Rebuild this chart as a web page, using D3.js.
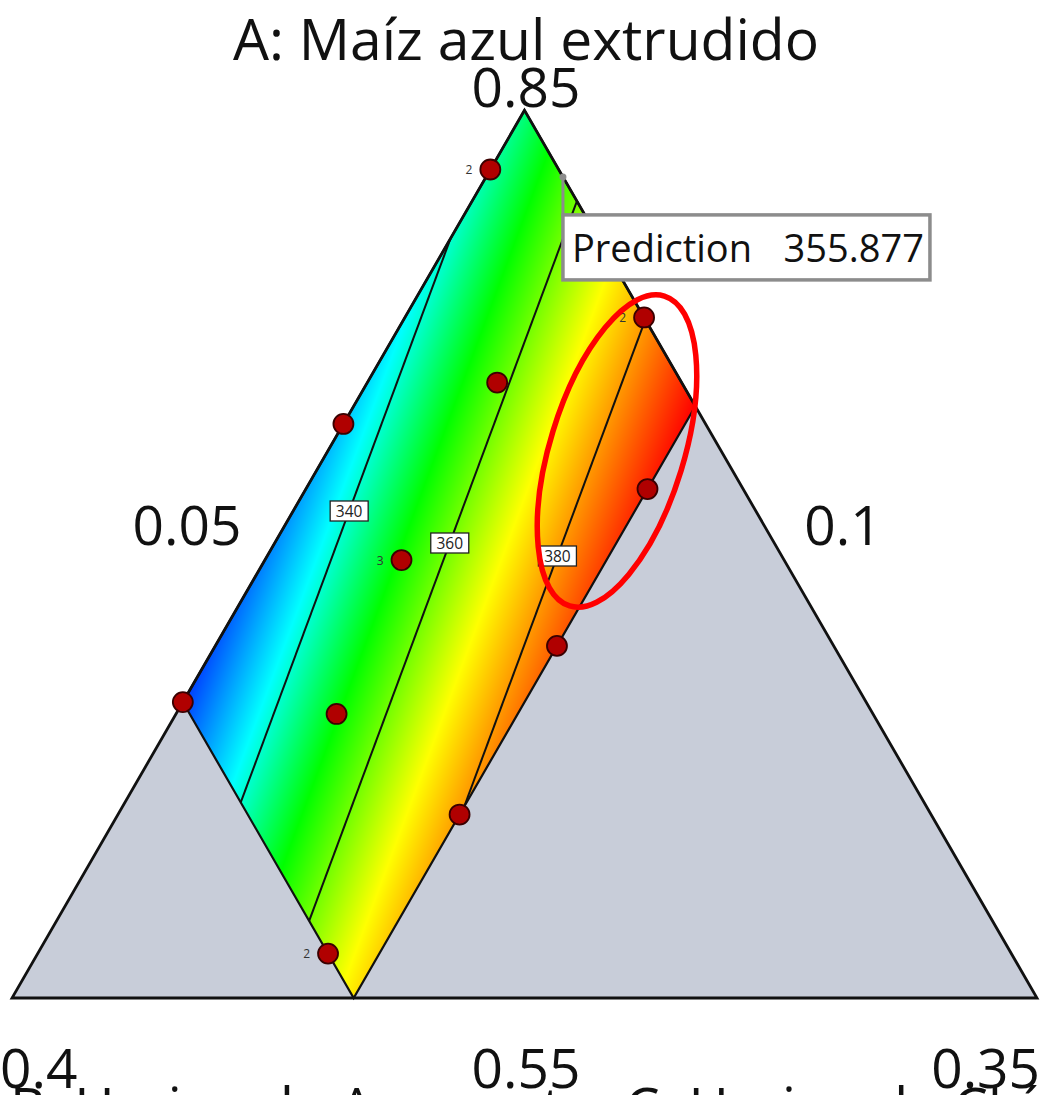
<!DOCTYPE html>
<html>
<head>
<meta charset="utf-8">
<script src="https://cdn.jsdelivr.net/npm/d3@7"></script>
<style>
  html, body { margin: 0; padding: 0; background: #fff; overflow: hidden; }
  svg { display: block; font-family: "Open Sans", "Noto Sans", sans-serif; }
</style>
</head>
<body>
<svg id="chart" width="1043" height="1095"></svg>
<script>
// ---- Mixture components and their bounds ----
const componentNames = ["A: Maíz azul extrudido", "B: Harina de Amaranto", "C: Harina de Chía"];
const componentLow  = [0.55, 0.10, 0.05];
const componentHigh = [0.85, 0.40, 0.35];
const vertexTickLabels = ["0.85", "0.4", "0.35"];   // at vertices A, B, C
const edgeTickLabels   = ["0.55", "0.1", "0.05"];   // on edges opposite A, B, C

// ---- Constrained design region (corner blends) ----
const regionA = [0.85, 0.75, 0.55, 0.65];
const regionB = [0.10, 0.10, 0.30, 0.30];
const regionC = [0.05, 0.15, 0.15, 0.05];

// ---- Linear mixture model: Y = bA*A + bB*B + bC*C ----
const modelCoef = [330.5, 222.5, 829.9];
const contourLevels = [340, 360, 380];

// ---- Design runs ----
const runA    = [0.830, 0.780, 0.758, 0.744, 0.722, 0.698, 0.650, 0.646, 0.669, 0.612, 0.565];
const runB    = [0.120, 0.100, 0.154, 0.206, 0.128, 0.212, 0.300, 0.257, 0.181, 0.238, 0.300];
const runC    = [0.050, 0.120, 0.088, 0.050, 0.150, 0.090, 0.050, 0.097, 0.150, 0.150, 0.135];
const runReps = [2, 2, 1, 1, 1, 3, 1, 1, 1, 1, 2];

// ---- Prediction flag ----
const predBlend = [0.8275, 0.100, 0.0725];
const predValue = 355.877;

// ================= drawing =================
const svg = d3.select("#chart");

// Equilateral simplex in pixels
const side = 1025, hgt = side * Math.sqrt(3) / 2, x0 = 12, y0 = 998;
const pseudo = [0, 1, 2].map(i =>
  d3.scaleLinear().domain([componentLow[i], componentHigh[i]]).range([0, 1]));

function project(A, B, C) {
  const a = pseudo[0](A), c = pseudo[2](C);
  return [x0 + side * (c + a / 2), y0 - a * hgt];
}
function unproject(x, y) {
  const a = (y0 - y) / hgt;
  const c = (x - x0) / side - a / 2;
  const b = 1 - a - c;
  return [pseudo[0].invert(a), pseudo[1].invert(b), pseudo[2].invert(c)];
}
const model = (A, B, C) => modelCoef[0] * A + modelCoef[1] * B + modelCoef[2] * C;

// Outer simplex
const vTop = project(componentHigh[0], componentLow[1], componentLow[2]);
const vLeft = project(componentLow[0], componentHigh[1], componentLow[2]);
const vRight = project(componentLow[0], componentLow[1], componentHigh[2]);

svg.append("path")
  .attr("d", d3.line()([vTop, vLeft, vRight]) + "Z")
  .attr("fill", "#c8cdd9")
  .attr("stroke", "none");

// Design region polygon
const regionPts = regionA.map((a, i) => project(a, regionB[i], regionC[i]));
const regionVals = regionA.map((a, i) => model(a, regionB[i], regionC[i]));
const yMin = d3.min(regionVals), yMax = d3.max(regionVals);

const color = d3.scaleLinear()
  .domain([-0.06, 0.2, 0.4, 0.66, 1].map(t => yMin + t * (yMax - yMin)))
  .range(["#0000ff", "#00ffff", "#00ff00", "#ffff00", "#ff0000"])
  .interpolate(d3.interpolateRgb)
  .clamp(true);

// Raster of the response surface over the region's bounding box
const bx0 = Math.floor(d3.min(regionPts, p => p[0])) - 2;
const bx1 = Math.ceil(d3.max(regionPts, p => p[0])) + 2;
const by0 = Math.floor(d3.min(regionPts, p => p[1])) - 2;
const by1 = Math.ceil(d3.max(regionPts, p => p[1])) + 2;
const cw = bx1 - bx0, ch = by1 - by0;
const canvas = document.createElement("canvas");
canvas.width = cw; canvas.height = ch;
const ctx = canvas.getContext("2d");
const img = ctx.createImageData(cw, ch);
for (let j = 0; j < ch; j++) {
  for (let i = 0; i < cw; i++) {
    const [A, B, C] = unproject(bx0 + i + 0.5, by0 + j + 0.5);
    const c = d3.rgb(color(model(A, B, C)));
    const k = (j * cw + i) * 4;
    img.data[k] = c.r; img.data[k + 1] = c.g; img.data[k + 2] = c.b; img.data[k + 3] = 255;
  }
}
ctx.putImageData(img, 0, 0);

const defs = svg.append("defs");
defs.append("clipPath").attr("id", "regionClip")
  .append("path").attr("d", d3.line()(regionPts) + "Z");

svg.append("image")
  .attr("x", bx0).attr("y", by0).attr("width", cw).attr("height", ch)
  .attr("href", canvas.toDataURL())
  .attr("clip-path", "url(#regionClip)");

// Contour lines: where each level crosses the region boundary
function contourSegment(level) {
  const pts = [];
  const n = regionPts.length;
  for (let i = 0; i < n; i++) {
    const j = (i + 1) % n;
    const v0 = regionVals[i], v1 = regionVals[j];
    if ((v0 - level) * (v1 - level) < 0) {
      const t = (level - v0) / (v1 - v0);
      pts.push([
        regionPts[i][0] + t * (regionPts[j][0] - regionPts[i][0]),
        regionPts[i][1] + t * (regionPts[j][1] - regionPts[i][1])
      ]);
    }
  }
  return pts;
}
const contours = contourLevels.map(level => ({ level, pts: contourSegment(level) }));

svg.append("g").selectAll("path").data(contours).join("path")
  .attr("d", d => d3.line()(d.pts))
  .attr("fill", "none")
  .attr("stroke", "#111")
  .attr("stroke-width", 2);

// Region outline and simplex outline
svg.append("path")
  .attr("d", d3.line()(regionPts) + "Z")
  .attr("fill", "none").attr("stroke", "#111").attr("stroke-width", 2.2);

svg.append("path")
  .attr("d", d3.line()([vTop, vLeft, vRight]) + "Z")
  .attr("fill", "none").attr("stroke", "#111").attr("stroke-width", 2.8)
  .attr("stroke-linejoin", "miter");

// Contour labels, placed along each line at a chosen height
const labelY = { 340: 511, 360: 543, 380: 556 };
const lblG = svg.append("g");
contours.forEach(d => {
  const [p, q] = d.pts;
  const yy = labelY[d.level];
  const t = (yy - p[1]) / (q[1] - p[1]);
  const xx = p[0] + t * (q[0] - p[0]);
  const g = lblG.append("g").attr("transform", `translate(${xx},${yy})`);
  g.append("rect").attr("x", -19).attr("y", -10).attr("width", 38).attr("height", 20)
    .attr("fill", "#fff").attr("stroke", "#222").attr("stroke-width", 1.3);
  g.append("text").attr("text-anchor", "middle").attr("y", 5.5)
    .attr("font-size", 15.5).attr("fill", "#222").text(d.level);
});

// Design points
const runs = runA.map((a, i) => ({ p: project(a, runB[i], runC[i]), reps: runReps[i] }));
const ptG = svg.append("g");
ptG.selectAll("circle").data(runs).join("circle")
  .attr("cx", d => d.p[0]).attr("cy", d => d.p[1]).attr("r", 10)
  .attr("fill", "#b00000").attr("stroke", "#3a0000").attr("stroke-width", 1.8);
ptG.selectAll("text").data(runs.filter(d => d.reps > 1)).join("text")
  .attr("x", d => d.p[0] - 18).attr("y", d => d.p[1] + 4.5)
  .attr("text-anchor", "end").attr("font-size", 12).attr("fill", "#333")
  .text(d => d.reps);

// Prediction flag
const pp = project(...predBlend);
const flag = svg.append("g");
flag.append("path")
  .attr("d", d3.line()([pp, [pp[0], pp[1] + 40]]))
  .attr("stroke", "#8c8c8c").attr("stroke-width", 3).attr("fill", "none");
flag.append("circle").attr("cx", pp[0]).attr("cy", pp[1]).attr("r", 3.5).attr("fill", "#8c8c8c");
flag.append("rect")
  .attr("x", pp[0]).attr("y", pp[1] + 38).attr("width", 367).attr("height", 65)
  .attr("fill", "#fff").attr("stroke", "#8c8c8c").attr("stroke-width", 3.5);
flag.append("text")
  .attr("x", pp[0] + 9).attr("y", pp[1] + 85)
  .attr("font-size", 38).attr("fill", "#111")
  .text("Prediction");
flag.append("text")
  .attr("x", pp[0] + 361).attr("y", pp[1] + 85).attr("text-anchor", "end")
  .attr("font-size", 38).attr("fill", "#111")
  .text(predValue.toFixed(3));

// Highlight ellipse
svg.append("ellipse")
  .attr("cx", 0).attr("cy", 0).attr("rx", 67).attr("ry", 162)
  .attr("transform", "translate(617,451) rotate(17)")
  .attr("fill", "none").attr("stroke", "#ff0000").attr("stroke-width", 5.5);

// Axis labels
const txt = svg.append("g").attr("fill", "#111");
txt.append("text").attr("x", 526).attr("y", 60).attr("text-anchor", "middle")
  .attr("font-size", 57).text(componentNames[0]);
txt.append("text").attr("x", 526).attr("y", 107).attr("text-anchor", "middle")
  .attr("font-size", 55).text(vertexTickLabels[0]);
txt.append("text").attr("x", 187).attr("y", 545).attr("text-anchor", "middle")
  .attr("font-size", 55).text(edgeTickLabels[2]);
txt.append("text").attr("x", 843).attr("y", 545).attr("text-anchor", "middle")
  .attr("font-size", 55).text(edgeTickLabels[1]);
txt.append("text").attr("x", 0).attr("y", 1088).attr("text-anchor", "start")
  .attr("font-size", 55).text(vertexTickLabels[1]);
txt.append("text").attr("x", 526).attr("y", 1088).attr("text-anchor", "middle")
  .attr("font-size", 55).text(edgeTickLabels[0]);
txt.append("text").attr("x", 1040).attr("y", 1088).attr("text-anchor", "end")
  .attr("font-size", 55).text(vertexTickLabels[2]);
txt.append("text").attr("x", 10).attr("y", 1127).attr("text-anchor", "start")
  .attr("font-size", 55).text(componentNames[1]);
txt.append("text").attr("x", 625).attr("y", 1127).attr("text-anchor", "start")
  .attr("font-size", 55).text(componentNames[2]);
</script>
</body>
</html>
